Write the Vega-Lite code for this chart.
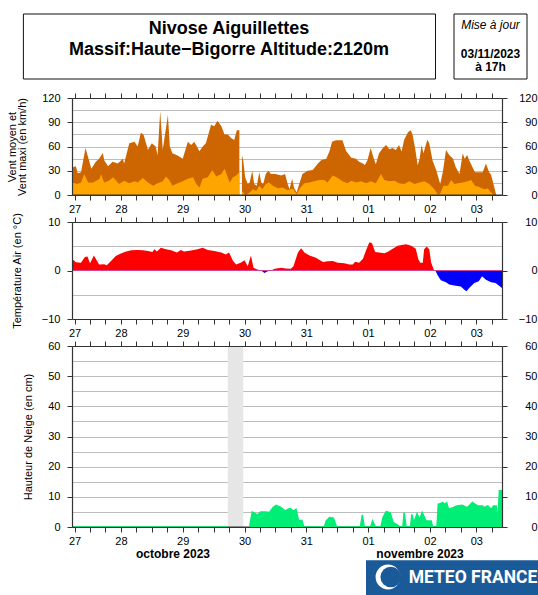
{
"$schema": "https://vega.github.io/schema/vega-lite/v6.json",
"background": "white",
"padding": {"left": 5, "top": 13, "right": 0, "bottom": 0},
"spacing": 27,
"bounds": "flush",
"config": {
  "view": {"stroke": null},
  "font": "Liberation Sans",
  "axis": {"labelFont": "Liberation Sans", "labelFontSize": 11, "labelColor": "#000", "titleFont": "Liberation Sans", "titleFontSize": 11, "titleColor": "#000", "titleFontWeight": "normal", "domainColor": "#333", "domainWidth": 1.2, "tickColor": "#333", "tickWidth": 1, "gridColor": "#bdbdbd", "gridWidth": 1}
},
"datasets": {
  "vmax": [
    {"t":"2023-10-27T17:00Z","v":34},{"t":"2023-10-27T18:30Z","v":35.5},{"t":"2023-10-27T19:15Z","v":27},{"t":"2023-10-27T20:30Z","v":28},{"t":"2023-10-27T22:15Z","v":58},{"t":"2023-10-27T23:45Z","v":41},
    {"t":"2023-10-28T00:30Z","v":32.5},{"t":"2023-10-28T02:15Z","v":41},{"t":"2023-10-28T03:30Z","v":45},{"t":"2023-10-28T05:00Z","v":52},{"t":"2023-10-28T05:30Z","v":43},{"t":"2023-10-28T07:00Z","v":35.5},{"t":"2023-10-28T08:45Z","v":41},{"t":"2023-10-28T10:45Z","v":39},{"t":"2023-10-28T12:45Z","v":45},{"t":"2023-10-28T13:15Z","v":39},{"t":"2023-10-28T15:15Z","v":64},{"t":"2023-10-28T17:15Z","v":66},{"t":"2023-10-28T18:30Z","v":60},{"t":"2023-10-28T19:45Z","v":77},{"t":"2023-10-28T20:45Z","v":75},{"t":"2023-10-28T22:30Z","v":56},
    {"t":"2023-10-29T00:00Z","v":64},{"t":"2023-10-29T01:30Z","v":60},{"t":"2023-10-29T02:15Z","v":49},{"t":"2023-10-29T03:15Z","v":104},{"t":"2023-10-29T04:15Z","v":56},{"t":"2023-10-29T06:15Z","v":99},{"t":"2023-10-29T07:00Z","v":60},{"t":"2023-10-29T08:00Z","v":51.5},{"t":"2023-10-29T10:00Z","v":49},{"t":"2023-10-29T12:00Z","v":45},{"t":"2023-10-29T14:00Z","v":66},{"t":"2023-10-29T15:15Z","v":62},{"t":"2023-10-29T16:30Z","v":66},{"t":"2023-10-29T18:30Z","v":54},{"t":"2023-10-29T19:45Z","v":60},{"t":"2023-10-29T21:00Z","v":64},{"t":"2023-10-29T23:00Z","v":87},
    {"t":"2023-10-30T00:15Z","v":85},{"t":"2023-10-30T01:30Z","v":92},{"t":"2023-10-30T03:00Z","v":85},{"t":"2023-10-30T04:15Z","v":75},{"t":"2023-10-30T05:30Z","v":75},{"t":"2023-10-30T06:45Z","v":70.5},{"t":"2023-10-30T08:00Z","v":68},{"t":"2023-10-30T09:00Z","v":80},{"t":"2023-10-30T10:00Z","v":80},{"t":"2023-10-30T10:30Z","v":null},
    {"t":"2023-10-30T11:00Z","v":49},{"t":"2023-10-30T11:30Z","v":43},{"t":"2023-10-30T12:15Z","v":22},{"t":"2023-10-30T13:15Z","v":13.5},{"t":"2023-10-30T14:00Z","v":15.6},{"t":"2023-10-30T15:00Z","v":30},{"t":"2023-10-30T15:45Z","v":13.5},{"t":"2023-10-30T16:45Z","v":11.4},{"t":"2023-10-30T17:45Z","v":28},{"t":"2023-10-30T18:30Z","v":15.6},{"t":"2023-10-30T19:15Z","v":13.5},{"t":"2023-10-30T20:15Z","v":26},{"t":"2023-10-30T21:15Z","v":30},{"t":"2023-10-30T22:15Z","v":26},
    {"t":"2023-10-31T00:00Z","v":26},{"t":"2023-10-31T02:15Z","v":24},{"t":"2023-10-31T03:45Z","v":26},{"t":"2023-10-31T04:45Z","v":13.5},{"t":"2023-10-31T05:30Z","v":7},{"t":"2023-10-31T06:30Z","v":20},{"t":"2023-10-31T07:15Z","v":9},{"t":"2023-10-31T08:15Z","v":3},{"t":"2023-10-31T09:15Z","v":13.5},{"t":"2023-10-31T10:30Z","v":26},{"t":"2023-10-31T12:30Z","v":30},{"t":"2023-10-31T14:30Z","v":31},{"t":"2023-10-31T16:30Z","v":39},{"t":"2023-10-31T17:45Z","v":43},{"t":"2023-10-31T19:45Z","v":45},{"t":"2023-10-31T21:00Z","v":54},{"t":"2023-10-31T22:00Z","v":66},{"t":"2023-10-31T23:30Z","v":67.6},
    {"t":"2023-11-01T02:00Z","v":67.6},{"t":"2023-11-01T03:30Z","v":54},{"t":"2023-11-01T05:30Z","v":46},{"t":"2023-11-01T07:15Z","v":45},{"t":"2023-11-01T08:30Z","v":41},{"t":"2023-11-01T10:00Z","v":39},{"t":"2023-11-01T10:45Z","v":37},{"t":"2023-11-01T11:45Z","v":43},{"t":"2023-11-01T13:00Z","v":58},{"t":"2023-11-01T14:15Z","v":45},{"t":"2023-11-01T15:00Z","v":38},{"t":"2023-11-01T16:15Z","v":51.5},{"t":"2023-11-01T17:45Z","v":58},{"t":"2023-11-01T19:00Z","v":62},{"t":"2023-11-01T20:15Z","v":56.6},{"t":"2023-11-01T21:30Z","v":58},{"t":"2023-11-01T22:45Z","v":55.8},
    {"t":"2023-11-02T00:00Z","v":62},{"t":"2023-11-02T01:00Z","v":53.7},{"t":"2023-11-02T02:00Z","v":68.4},{"t":"2023-11-02T03:30Z","v":77.7},{"t":"2023-11-02T04:30Z","v":80},{"t":"2023-11-02T05:15Z","v":74.8},{"t":"2023-11-02T06:15Z","v":58},{"t":"2023-11-02T07:15Z","v":36.8},{"t":"2023-11-02T08:00Z","v":45},{"t":"2023-11-02T08:45Z","v":62},{"t":"2023-11-02T09:30Z","v":51.5},{"t":"2023-11-02T11:00Z","v":68.4},{"t":"2023-11-02T11:45Z","v":64},{"t":"2023-11-02T13:00Z","v":43},{"t":"2023-11-02T14:30Z","v":30.4},{"t":"2023-11-02T15:15Z","v":22},{"t":"2023-11-02T16:00Z","v":13.5},{"t":"2023-11-02T17:00Z","v":28},{"t":"2023-11-02T18:15Z","v":55.8},{"t":"2023-11-02T19:30Z","v":49.4},{"t":"2023-11-02T21:00Z","v":45},{"t":"2023-11-02T22:00Z","v":34.6},{"t":"2023-11-02T23:30Z","v":26},
    {"t":"2023-11-03T00:45Z","v":51.5},{"t":"2023-11-03T01:30Z","v":45},{"t":"2023-11-03T02:30Z","v":49.4},{"t":"2023-11-03T03:15Z","v":43},{"t":"2023-11-03T04:30Z","v":34.6},{"t":"2023-11-03T05:30Z","v":28},{"t":"2023-11-03T07:15Z","v":28},{"t":"2023-11-03T08:30Z","v":28},{"t":"2023-11-03T09:45Z","v":39},{"t":"2023-11-03T11:00Z","v":28},{"t":"2023-11-03T11:45Z","v":25},{"t":"2023-11-03T13:00Z","v":10},{"t":"2023-11-03T13:45Z","v":0}
  ],
  "vmoy": [
    {"t":"2023-10-27T17:00Z","v":15.6},{"t":"2023-10-27T19:00Z","v":13.5},{"t":"2023-10-27T20:30Z","v":15.6},{"t":"2023-10-27T21:45Z","v":26},{"t":"2023-10-27T23:15Z","v":15.6},
    {"t":"2023-10-28T01:15Z","v":15.6},{"t":"2023-10-28T03:45Z","v":20},{"t":"2023-10-28T04:15Z","v":26},{"t":"2023-10-28T05:30Z","v":15.6},{"t":"2023-10-28T07:15Z","v":17.7},{"t":"2023-10-28T09:00Z","v":22},{"t":"2023-10-28T11:15Z","v":13.5},{"t":"2023-10-28T13:15Z","v":17.7},{"t":"2023-10-28T15:15Z","v":14.4},{"t":"2023-10-28T17:15Z","v":17},{"t":"2023-10-28T18:30Z","v":15.6},{"t":"2023-10-28T20:30Z","v":21},{"t":"2023-10-28T22:30Z","v":15.6},
    {"t":"2023-10-29T00:30Z","v":11.4},{"t":"2023-10-29T02:15Z","v":14.4},{"t":"2023-10-29T04:15Z","v":17},{"t":"2023-10-29T05:30Z","v":23},{"t":"2023-10-29T06:45Z","v":18.6},{"t":"2023-10-29T08:00Z","v":11.4},{"t":"2023-10-29T10:00Z","v":14.4},{"t":"2023-10-29T12:00Z","v":17},{"t":"2023-10-29T14:00Z","v":20},{"t":"2023-10-29T16:00Z","v":22},{"t":"2023-10-29T17:15Z","v":13.5},{"t":"2023-10-29T18:30Z","v":9.3},{"t":"2023-10-29T19:45Z","v":20},{"t":"2023-10-29T21:45Z","v":22},{"t":"2023-10-29T23:30Z","v":31},
    {"t":"2023-10-30T01:00Z","v":23},{"t":"2023-10-30T03:00Z","v":26},{"t":"2023-10-30T04:15Z","v":32.5},{"t":"2023-10-30T06:15Z","v":15.6},{"t":"2023-10-30T07:30Z","v":22},{"t":"2023-10-30T08:45Z","v":24},{"t":"2023-10-30T10:00Z","v":28},{"t":"2023-10-30T10:30Z","v":null},
    {"t":"2023-10-30T11:00Z","v":5},{"t":"2023-10-30T12:00Z","v":1},{"t":"2023-10-30T12:30Z","v":0},{"t":"2023-10-30T14:00Z","v":3},{"t":"2023-10-30T15:15Z","v":7},{"t":"2023-10-30T16:30Z","v":5},{"t":"2023-10-30T17:45Z","v":11.4},{"t":"2023-10-30T19:00Z","v":7},{"t":"2023-10-30T20:15Z","v":13.5},{"t":"2023-10-30T21:30Z","v":15.6},{"t":"2023-10-30T23:00Z","v":11.4},
    {"t":"2023-10-31T01:00Z","v":8.4},{"t":"2023-10-31T02:45Z","v":9.3},{"t":"2023-10-31T04:45Z","v":6},{"t":"2023-10-31T06:45Z","v":8},{"t":"2023-10-31T08:15Z","v":1},{"t":"2023-10-31T09:30Z","v":8.4},{"t":"2023-10-31T11:15Z","v":14.4},{"t":"2023-10-31T13:15Z","v":15.6},{"t":"2023-10-31T15:00Z","v":17},{"t":"2023-10-31T17:00Z","v":18.6},{"t":"2023-10-31T19:00Z","v":18.6},{"t":"2023-10-31T20:15Z","v":15.6},{"t":"2023-10-31T22:15Z","v":24},
    {"t":"2023-11-01T00:15Z","v":21},{"t":"2023-11-01T02:00Z","v":17},{"t":"2023-11-01T04:00Z","v":14.4},{"t":"2023-11-01T05:30Z","v":17.7},{"t":"2023-11-01T07:15Z","v":15.6},{"t":"2023-11-01T09:15Z","v":17},{"t":"2023-11-01T11:15Z","v":14.4},{"t":"2023-11-01T13:00Z","v":17},{"t":"2023-11-01T15:00Z","v":14.4},{"t":"2023-11-01T17:00Z","v":26},{"t":"2023-11-01T18:15Z","v":18.6},{"t":"2023-11-01T20:15Z","v":17},{"t":"2023-11-01T22:15Z","v":17.7},
    {"t":"2023-11-02T00:00Z","v":14.4},{"t":"2023-11-02T02:00Z","v":13.5},{"t":"2023-11-02T04:00Z","v":17},{"t":"2023-11-02T06:00Z","v":13.5},{"t":"2023-11-02T08:00Z","v":15.6},{"t":"2023-11-02T09:45Z","v":17},{"t":"2023-11-02T11:45Z","v":13.5},{"t":"2023-11-02T13:45Z","v":7.2},{"t":"2023-11-02T15:00Z","v":1},{"t":"2023-11-02T16:00Z","v":1.7},{"t":"2023-11-02T17:15Z","v":11.4},{"t":"2023-11-02T19:00Z","v":11.4},{"t":"2023-11-02T20:15Z","v":18.6},{"t":"2023-11-02T21:30Z","v":13.5},{"t":"2023-11-02T22:45Z","v":14.4},
    {"t":"2023-11-03T00:45Z","v":15.6},{"t":"2023-11-03T02:45Z","v":17},{"t":"2023-11-03T04:00Z","v":18.6},{"t":"2023-11-03T05:30Z","v":11.4},{"t":"2023-11-03T07:15Z","v":10},{"t":"2023-11-03T09:00Z","v":7.2},{"t":"2023-11-03T10:30Z","v":8},{"t":"2023-11-03T11:45Z","v":3},{"t":"2023-11-03T13:00Z","v":0}
  ],
  "temp": [
    {"t":"2023-10-27T17:00Z","T":2.4},{"t":"2023-10-27T18:30Z","T":1.7},{"t":"2023-10-27T20:30Z","T":1.6},{"t":"2023-10-27T22:00Z","T":2.8},{"t":"2023-10-27T23:00Z","T":2.9},
    {"t":"2023-10-28T00:00Z","T":1.5},{"t":"2023-10-28T01:30Z","T":3.1},{"t":"2023-10-28T02:15Z","T":2.4},{"t":"2023-10-28T03:30Z","T":1.25},{"t":"2023-10-28T05:30Z","T":1.3},{"t":"2023-10-28T06:30Z","T":1.1},{"t":"2023-10-28T08:15Z","T":2},{"t":"2023-10-28T10:00Z","T":3},{"t":"2023-10-28T12:00Z","T":3.5},{"t":"2023-10-28T14:00Z","T":3.9},{"t":"2023-10-28T16:00Z","T":4.2},{"t":"2023-10-28T18:30Z","T":4.25},{"t":"2023-10-28T20:30Z","T":4.2},{"t":"2023-10-28T22:30Z","T":4},
    {"t":"2023-10-29T00:15Z","T":3.8},{"t":"2023-10-29T01:00Z","T":4.4},{"t":"2023-10-29T02:00Z","T":3.9},{"t":"2023-10-29T03:30Z","T":4.7},{"t":"2023-10-29T05:30Z","T":4.4},{"t":"2023-10-29T07:30Z","T":4.2},{"t":"2023-10-29T09:45Z","T":3.7},{"t":"2023-10-29T11:15Z","T":4.25},{"t":"2023-10-29T12:30Z","T":3.9},{"t":"2023-10-29T15:15Z","T":4.1},{"t":"2023-10-29T17:45Z","T":4.4},{"t":"2023-10-29T19:45Z","T":4.7},{"t":"2023-10-29T21:45Z","T":4.25},
    {"t":"2023-10-30T00:15Z","T":4},{"t":"2023-10-30T03:00Z","T":3.7},{"t":"2023-10-30T04:45Z","T":3.3},{"t":"2023-10-30T06:00Z","T":3.7},{"t":"2023-10-30T07:30Z","T":2},{"t":"2023-10-30T08:45Z","T":1.25},{"t":"2023-10-30T10:30Z","T":1.6},{"t":"2023-10-30T12:00Z","T":2.1},{"t":"2023-10-30T13:15Z","T":0.9},{"t":"2023-10-30T14:30Z","T":3.1},{"t":"2023-10-30T15:30Z","T":0.55},{"t":"2023-10-30T17:00Z","T":0.2},{"t":"2023-10-30T18:30Z","T":0},{"t":"2023-10-30T19:45Z","T":-0.5},{"t":"2023-10-30T21:00Z","T":-0.15},{"t":"2023-10-30T22:15Z","T":0},{"t":"2023-10-30T23:45Z","T":0.35},
    {"t":"2023-10-31T02:15Z","T":0.55},{"t":"2023-10-31T04:00Z","T":0.4},{"t":"2023-10-31T06:00Z","T":0.35},{"t":"2023-10-31T07:00Z","T":0.9},{"t":"2023-10-31T08:45Z","T":3.7},{"t":"2023-10-31T10:00Z","T":4.6},{"t":"2023-10-31T11:15Z","T":3.7},{"t":"2023-10-31T13:15Z","T":3.1},{"t":"2023-10-31T15:45Z","T":2.65},{"t":"2023-10-31T17:00Z","T":2.2},{"t":"2023-10-31T18:30Z","T":1.75},{"t":"2023-10-31T20:15Z","T":1.9},{"t":"2023-10-31T22:15Z","T":1.95},
    {"t":"2023-11-01T00:15Z","T":1.6},{"t":"2023-11-01T02:45Z","T":1.5},{"t":"2023-11-01T04:45Z","T":1.25},{"t":"2023-11-01T06:00Z","T":1.25},{"t":"2023-11-01T07:00Z","T":1.8},{"t":"2023-11-01T08:30Z","T":1.6},{"t":"2023-11-01T10:00Z","T":2.4},{"t":"2023-11-01T11:15Z","T":4.25},{"t":"2023-11-01T12:30Z","T":5.8},{"t":"2023-11-01T13:30Z","T":5.6},{"t":"2023-11-01T14:45Z","T":3.8},{"t":"2023-11-01T16:15Z","T":3.7},{"t":"2023-11-01T18:15Z","T":3.55},{"t":"2023-11-01T19:30Z","T":3.8},{"t":"2023-11-01T21:15Z","T":4.4},{"t":"2023-11-01T23:30Z","T":5.1},
    {"t":"2023-11-02T01:30Z","T":5.3},{"t":"2023-11-02T02:45Z","T":5.4},{"t":"2023-11-02T04:45Z","T":5.1},{"t":"2023-11-02T06:30Z","T":4.5},{"t":"2023-11-02T07:30Z","T":2.3},{"t":"2023-11-02T08:15Z","T":1.6},{"t":"2023-11-02T09:15Z","T":1.6},{"t":"2023-11-02T09:45Z","T":4.4},{"t":"2023-11-02T10:45Z","T":4.95},{"t":"2023-11-02T11:45Z","T":4.4},{"t":"2023-11-02T12:30Z","T":1.6},{"t":"2023-11-02T13:30Z","T":0.2},{"t":"2023-11-02T13:45Z","T":0},{"t":"2023-11-02T14:15Z","T":-0.15},{"t":"2023-11-02T15:00Z","T":-1},{"t":"2023-11-02T16:15Z","T":-2},{"t":"2023-11-02T18:15Z","T":-2.4},{"t":"2023-11-02T19:30Z","T":-2.9},{"t":"2023-11-02T21:30Z","T":-3.1},
    {"t":"2023-11-03T00:00Z","T":-3.3},{"t":"2023-11-03T01:30Z","T":-4},{"t":"2023-11-03T02:15Z","T":-4.3},{"t":"2023-11-03T03:15Z","T":-3.6},{"t":"2023-11-03T05:15Z","T":-2.6},{"t":"2023-11-03T07:00Z","T":-2.2},{"t":"2023-11-03T08:15Z","T":-1.2},{"t":"2023-11-03T09:45Z","T":-1.9},{"t":"2023-11-03T11:45Z","T":-2.4},{"t":"2023-11-03T13:30Z","T":-2.6},{"t":"2023-11-03T14:45Z","T":-3.1},{"t":"2023-11-03T16:00Z","T":-3.6}
  ],
  "neige": [
    {"t":"2023-10-27T17:00Z","s":0},{"t":"2023-10-30T05:30Z","s":0},{"t":"2023-10-30T08:00Z","s":null},
    {"t":"2023-10-30T14:00Z","s":0},{"t":"2023-10-30T15:00Z","s":5},{"t":"2023-10-30T17:00Z","s":4},{"t":"2023-10-30T18:15Z","s":5},{"t":"2023-10-30T20:15Z","s":5},{"t":"2023-10-30T21:45Z","s":4.8},{"t":"2023-10-30T23:00Z","s":6.4},
    {"t":"2023-10-31T00:15Z","s":7.2},{"t":"2023-10-31T02:15Z","s":6.4},{"t":"2023-10-31T03:45Z","s":5.3},{"t":"2023-10-31T05:00Z","s":5.9},{"t":"2023-10-31T05:45Z","s":6.1},{"t":"2023-10-31T07:00Z","s":5.3},{"t":"2023-10-31T08:00Z","s":5.9},{"t":"2023-10-31T09:00Z","s":2},{"t":"2023-10-31T10:15Z","s":2.2},{"t":"2023-10-31T11:00Z","s":0},{"t":"2023-10-31T19:00Z","s":0},{"t":"2023-10-31T19:45Z","s":2},{"t":"2023-10-31T21:00Z","s":3.1},{"t":"2023-10-31T22:30Z","s":2.9},{"t":"2023-10-31T23:45Z","s":0},
    {"t":"2023-11-01T09:00Z","s":0},{"t":"2023-11-01T09:45Z","s":4},{"t":"2023-11-01T10:30Z","s":0},{"t":"2023-11-01T13:00Z","s":0},{"t":"2023-11-01T13:45Z","s":2},{"t":"2023-11-01T14:45Z","s":0},{"t":"2023-11-01T17:00Z","s":0},{"t":"2023-11-01T17:45Z","s":3.1},{"t":"2023-11-01T19:00Z","s":5.1},{"t":"2023-11-01T20:30Z","s":4.8},{"t":"2023-11-01T21:45Z","s":1.4},{"t":"2023-11-01T23:00Z","s":0.9},
    {"t":"2023-11-02T00:30Z","s":0},{"t":"2023-11-02T01:30Z","s":0},{"t":"2023-11-02T02:00Z","s":4.8},{"t":"2023-11-02T02:45Z","s":0},{"t":"2023-11-02T04:30Z","s":0},{"t":"2023-11-02T05:00Z","s":4.2},{"t":"2023-11-02T05:45Z","s":1.4},{"t":"2023-11-02T07:00Z","s":4.4},{"t":"2023-11-02T08:00Z","s":2.5},{"t":"2023-11-02T09:00Z","s":4.8},{"t":"2023-11-02T10:30Z","s":2},{"t":"2023-11-02T12:30Z","s":2},{"t":"2023-11-02T13:00Z","s":0},{"t":"2023-11-02T14:45Z","s":0},{"t":"2023-11-02T15:15Z","s":7.5},{"t":"2023-11-02T17:00Z","s":8.1},{"t":"2023-11-02T17:45Z","s":7.5},{"t":"2023-11-02T18:30Z","s":8},{"t":"2023-11-02T19:15Z","s":5.9},{"t":"2023-11-02T21:00Z","s":6.4},{"t":"2023-11-02T22:30Z","s":7},
    {"t":"2023-11-03T00:30Z","s":7.2},{"t":"2023-11-03T02:30Z","s":6.4},{"t":"2023-11-03T04:30Z","s":8.1},{"t":"2023-11-03T06:30Z","s":7},{"t":"2023-11-03T08:30Z","s":7},{"t":"2023-11-03T09:00Z","s":6.4},{"t":"2023-11-03T10:30Z","s":7},{"t":"2023-11-03T11:45Z","s":5.9},{"t":"2023-11-03T12:45Z","s":7},{"t":"2023-11-03T13:45Z","s":7},{"t":"2023-11-03T14:15Z","s":0},{"t":"2023-11-03T15:00Z","s":12},{"t":"2023-11-03T16:00Z","s":12}
  ],
  "lacune": [{"d":"2023-10-30T05:30Z","f":"2023-10-30T11:30Z"}],
  "zero": [{"z":0}]
},
"vconcat": [
  {
    "width": 430, "height": 57,
    "data": {"values": [{}]},
    "layer": [
      {"mark": {"type": "rect", "fill": "white", "stroke": "#111", "strokeWidth": 1},
       "encoding": {"x": {"datum": -48.6, "type": "quantitative", "scale": {"domain": [0, 430], "nice": false, "zero": false}, "axis": null}, "x2": {"datum": 363.5},
                    "y": {"datum": 0, "type": "quantitative", "scale": {"domain": [0, 57], "nice": false, "zero": false, "reverse": true}, "axis": null}, "y2": {"datum": 65}}},
      {"mark": {"type": "rect", "fill": "white", "stroke": "#111", "strokeWidth": 1},
       "encoding": {"x": {"datum": 382, "type": "quantitative", "axis": null}, "x2": {"datum": 455},
                    "y": {"datum": 0, "type": "quantitative", "axis": null}, "y2": {"datum": 65}}},
      {"mark": {"type": "text", "text": "Nivose Aiguillettes", "font": "Liberation Sans", "fontSize": 18, "fontWeight": "bold", "align": "center", "baseline": "alphabetic", "color": "black"},
       "encoding": {"x": {"datum": 157, "type": "quantitative", "axis": null}, "y": {"datum": 20.3, "type": "quantitative", "axis": null}}},
      {"mark": {"type": "text", "text": "Massif:Haute−Bigorre Altitude:2120m", "font": "Liberation Sans", "fontSize": 18, "fontWeight": "bold", "align": "center", "baseline": "alphabetic", "color": "black"},
       "encoding": {"x": {"datum": 157, "type": "quantitative", "axis": null}, "y": {"datum": 41.3, "type": "quantitative", "axis": null}}},
      {"mark": {"type": "text", "text": "Mise à jour", "font": "Liberation Sans", "fontSize": 12, "fontStyle": "italic", "align": "center", "baseline": "alphabetic", "color": "black"},
       "encoding": {"x": {"datum": 418.5, "type": "quantitative", "axis": null}, "y": {"datum": 15.3, "type": "quantitative", "axis": null}}},
      {"mark": {"type": "text", "text": "03/11/2023", "font": "Liberation Sans", "fontSize": 12, "fontWeight": "bold", "align": "center", "baseline": "alphabetic", "color": "black"},
       "encoding": {"x": {"datum": 418.5, "type": "quantitative", "axis": null}, "y": {"datum": 43.5, "type": "quantitative", "axis": null}}},
      {"mark": {"type": "text", "text": "à 17h", "font": "Liberation Sans", "fontSize": 12, "fontWeight": "bold", "align": "center", "baseline": "alphabetic", "color": "black"},
       "encoding": {"x": {"datum": 418.5, "type": "quantitative", "axis": null}, "y": {"datum": 56.5, "type": "quantitative", "axis": null}}}
    ]
  },
  {
    "width": 430, "height": 97,
    "resolve": {"axis": {"x": "independent", "y": "independent"}},
    "layer": [
      {"data": {"name": "vmax"},
       "mark": {"type": "area", "color": "#cd6600"},
       "encoding": {
         "x": {"field": "t", "type": "temporal", "scale": {"type": "utc", "domain": [1698426000000, 1699027200000]},
               "axis": {"orient": "bottom", "values": [1698429600000,1698451200000,1698472800000,1698494400000,1698516000000,1698537600000,1698559200000,1698580800000,1698602400000,1698624000000,1698645600000,1698667200000,1698688800000,1698710400000,1698732000000,1698753600000,1698775200000,1698796800000,1698818400000,1698840000000,1698861600000,1698883200000,1698904800000,1698926400000,1698948000000,1698969600000,1698991200000,1699012800000], "grid": false, "title": null, "labelExpr": "+datum.value == 1698429600000 ? '\u00a0\u00a0\u00a0\u00a0\u00a027' : +datum.value == 1698991200000 ? '\u00a0\u00a0\u00a0\u00a003' : (utchours(datum.value) == 12 && +datum.value < 1699000000000) ? utcFormat(datum.value, '%d') : ''", "labelFlush": false, "labelOverlap": false, "labelBound": false, "tickSize": 5, "labelPadding": 3, "zindex": 1}},
         "y": {"field": "v", "type": "quantitative", "stack": null, "scale": {"domain": [0, 120], "nice": false, "zero": false},
               "axis": {"orient": "left", "values": [15, 30, 45, 60, 75, 90, 105], "grid": true, "domain": false, "ticks": false, "labels": false, "title": null, "zindex": 0}}
       }},
      {"data": {"name": "vmoy"},
       "mark": {"type": "area", "color": "#ffa500"},
       "encoding": {
         "x": {"field": "t", "type": "temporal", "axis": {"orient": "top", "values": [1698429600000,1698451200000,1698472800000,1698494400000,1698516000000,1698537600000,1698559200000,1698580800000,1698602400000,1698624000000,1698645600000,1698667200000,1698688800000,1698710400000,1698732000000,1698753600000,1698775200000,1698796800000,1698818400000,1698840000000,1698861600000,1698883200000,1698904800000,1698926400000,1698948000000,1698969600000,1698991200000,1699012800000], "labels": false, "grid": false, "title": null, "tickSize": 5, "zindex": 1}},
         "y": {"field": "v", "type": "quantitative", "stack": null,
               "axis": {"orient": "left", "values": [0, 30, 60, 90, 120], "grid": false, "tickSize": 5, "labelPadding": 7, "title": ["Vent moyen et", "Vent maxi (en km/h)"], "titleX": -60, "titleY": 48.5, "titleAngle": 270, "titleAlign": "center", "titleBaseline": "middle", "titleLineHeight": 10.5, "zindex": 1}}
       }},
      {"data": {"name": "zero"},
       "mark": {"type": "rule", "color": "#333", "strokeWidth": 1},
       "encoding": {"y": {"field": "z", "type": "quantitative", "axis": {"orient": "right", "values": [0, 30, 60, 90, 120], "grid": false, "tickSize": 5, "labelPadding": 30, "labelAlign": "right", "title": null, "zindex": 1}}}}
    ]
  },
  {
    "width": 430, "height": 97,
    "resolve": {"axis": {"x": "independent", "y": "independent"}},
    "layer": [
      {"data": {"name": "temp"},
       "transform": [{"filter": "datum.T >= 0"}],
       "mark": {"type": "area", "color": "#ff0000"},
       "encoding": {
         "x": {"field": "t", "type": "temporal", "scale": {"type": "utc", "domain": [1698426000000, 1699027200000]},
               "axis": {"orient": "bottom", "values": [1698429600000,1698451200000,1698472800000,1698494400000,1698516000000,1698537600000,1698559200000,1698580800000,1698602400000,1698624000000,1698645600000,1698667200000,1698688800000,1698710400000,1698732000000,1698753600000,1698775200000,1698796800000,1698818400000,1698840000000,1698861600000,1698883200000,1698904800000,1698926400000,1698948000000,1698969600000,1698991200000,1699012800000], "grid": false, "title": null, "labelExpr": "+datum.value == 1698429600000 ? '\u00a0\u00a0\u00a0\u00a0\u00a027' : +datum.value == 1698991200000 ? '\u00a0\u00a0\u00a0\u00a003' : (utchours(datum.value) == 12 && +datum.value < 1699000000000) ? utcFormat(datum.value, '%d') : ''", "labelFlush": false, "labelOverlap": false, "labelBound": false, "tickSize": 5, "labelPadding": 3, "zindex": 1}},
         "y": {"field": "T", "type": "quantitative", "stack": null, "scale": {"domain": [-10, 10], "nice": false},
               "axis": {"orient": "left", "values": [-5, 5], "grid": true, "domain": false, "ticks": false, "labels": false, "title": null, "zindex": 0}}
       }},
      {"data": {"name": "temp"},
       "transform": [{"filter": "datum.T <= 0"}],
       "mark": {"type": "area", "color": "#0000ff"},
       "encoding": {
         "x": {"field": "t", "type": "temporal", "axis": {"orient": "top", "values": [1698429600000,1698451200000,1698472800000,1698494400000,1698516000000,1698537600000,1698559200000,1698580800000,1698602400000,1698624000000,1698645600000,1698667200000,1698688800000,1698710400000,1698732000000,1698753600000,1698775200000,1698796800000,1698818400000,1698840000000,1698861600000,1698883200000,1698904800000,1698926400000,1698948000000,1698969600000,1698991200000,1699012800000], "labels": false, "grid": false, "title": null, "tickSize": 5, "zindex": 1}},
         "y": {"field": "T", "type": "quantitative", "stack": null,
               "axis": {"orient": "left", "values": [-10, 0, 10], "grid": false, "tickSize": 5, "labelPadding": 7, "title": "Température Air (en °C)", "titleX": -54.8, "titleY": 48.5, "titleAngle": 270, "titleAlign": "center", "titleBaseline": "middle", "zindex": 1}}
       }},
      {"data": {"name": "zero"},
       "mark": {"type": "rule", "color": "#d0449a", "strokeWidth": 1},
       "encoding": {"y": {"field": "z", "type": "quantitative", "axis": {"orient": "right", "values": [-10, 0, 10], "grid": false, "tickSize": 5, "labelPadding": 30, "labelAlign": "right", "title": null, "zindex": 1}}}}
    ]
  },
  {
    "width": 430, "height": 181,
    "resolve": {"axis": {"x": "independent", "y": "independent"}},
    "layer": [
      {"data": {"name": "lacune"},
       "mark": {"type": "rect", "color": "#e6e6e6"},
       "encoding": {
         "x": {"field": "d", "type": "temporal", "scale": {"type": "utc", "domain": [1698426000000, 1699027200000]},
               "axis": {"orient": "bottom", "values": [1698429600000,1698451200000,1698472800000,1698494400000,1698516000000,1698537600000,1698559200000,1698580800000,1698602400000,1698624000000,1698645600000,1698667200000,1698688800000,1698710400000,1698732000000,1698753600000,1698775200000,1698796800000,1698818400000,1698840000000,1698861600000,1698883200000,1698904800000,1698926400000,1698948000000,1698969600000,1698991200000,1699012800000], "grid": false, "title": null, "labelExpr": "+datum.value == 1698429600000 ? '\u00a0\u00a0\u00a0\u00a0\u00a027' : +datum.value == 1698991200000 ? '\u00a0\u00a0\u00a0\u00a003' : (utchours(datum.value) == 12 && +datum.value < 1699000000000) ? utcFormat(datum.value, '%d') : ''", "labelFlush": false, "labelOverlap": false, "labelBound": false, "tickSize": 5, "labelPadding": 3, "zindex": 1}},
         "x2": {"field": "f"}
       }},
      {"data": {"name": "zero"},
       "mark": {"type": "rule", "color": "#333", "strokeWidth": 1},
       "encoding": {"y": {"field": "z", "type": "quantitative", "scale": {"domain": [0, 60], "nice": false}, "axis": {"orient": "right", "values": [0, 10, 20, 30, 40, 50, 60], "grid": false, "tickSize": 5, "labelPadding": 30, "labelAlign": "right", "title": null, "zindex": 1}}}},
      {"data": {"name": "neige"},
       "mark": {"type": "area", "color": "#00ee76"},
       "encoding": {
         "x": {"field": "t", "type": "temporal", "axis": {"orient": "top", "values": [1698429600000,1698451200000,1698472800000,1698494400000,1698516000000,1698537600000,1698559200000,1698580800000,1698602400000,1698624000000,1698645600000,1698667200000,1698688800000,1698710400000,1698732000000,1698753600000,1698775200000,1698796800000,1698818400000,1698840000000,1698861600000,1698883200000,1698904800000,1698926400000,1698948000000,1698969600000,1698991200000,1699012800000], "labels": false, "grid": false, "title": null, "tickSize": 5, "zindex": 1}},
         "y": {"field": "s", "type": "quantitative", "stack": null,
               "axis": {"orient": "left", "values": [5, 10, 15, 20, 25, 30, 35, 40, 45, 50, 55], "grid": true, "domain": false, "ticks": false, "labels": false, "title": null, "zindex": 0}}
       }},
      {"data": {"name": "neige"},
       "mark": {"type": "line", "color": "#00ee76", "strokeWidth": 1.5},
       "encoding": {
         "x": {"field": "t", "type": "temporal", "axis": null},
         "y": {"field": "s", "type": "quantitative",
               "axis": {"orient": "left", "values": [0, 10, 20, 30, 40, 50, 60], "grid": false, "tickSize": 5, "labelPadding": 7, "title": "Hauteur de Neige (en cm)", "titleX": -43.4, "titleY": 90.5, "titleAngle": 270, "titleAlign": "center", "titleBaseline": "middle", "zindex": 1}}
       }}
    ]
  },
  {
    "width": 430, "height": 42,
    "data": {"values": [{}]},
    "layer": [
      {"mark": {"type": "text", "text": "octobre 2023", "font": "Liberation Sans", "fontSize": 12, "fontWeight": "bold", "align": "center", "baseline": "alphabetic", "color": "black"},
       "encoding": {"x": {"datum": 101, "type": "quantitative", "scale": {"domain": [0, 430], "nice": false, "zero": false}, "axis": null},
                    "y": {"datum": 4, "type": "quantitative", "scale": {"domain": [0, 42], "nice": false, "zero": false, "reverse": true}, "axis": null}}},
      {"mark": {"type": "text", "text": "novembre 2023", "font": "Liberation Sans", "fontSize": 12, "fontWeight": "bold", "align": "center", "baseline": "alphabetic", "color": "black"},
       "encoding": {"x": {"datum": 348, "type": "quantitative", "axis": null}, "y": {"datum": 4, "type": "quantitative", "axis": null}}},
      {"mark": {"type": "rect", "color": "#1b5a98"},
       "encoding": {"x": {"datum": 294, "type": "quantitative", "axis": null}, "x2": {"datum": 470},
                    "y": {"datum": 6.3, "type": "quantitative", "axis": null}, "y2": {"datum": 46}}},
      {"mark": {"type": "point", "filled": true, "color": "white", "size": 616, "opacity": 1},
       "encoding": {"x": {"datum": 316, "type": "quantitative", "axis": null}, "y": {"datum": 23, "type": "quantitative", "axis": null}}},
      {"mark": {"type": "point", "filled": true, "color": "#1b5a98", "size": 430, "opacity": 1},
       "encoding": {"x": {"datum": 318.8, "type": "quantitative", "axis": null}, "y": {"datum": 23, "type": "quantitative", "axis": null}}},
      {"mark": {"type": "text", "text": "METEO FRANCE", "font": "Roboto", "fontSize": 17.5, "fontWeight": "bold", "align": "center", "baseline": "alphabetic", "color": "white"},
       "encoding": {"x": {"datum": 401, "type": "quantitative", "axis": null}, "y": {"datum": 29, "type": "quantitative", "axis": null}}}
    ]
  }
]
}
